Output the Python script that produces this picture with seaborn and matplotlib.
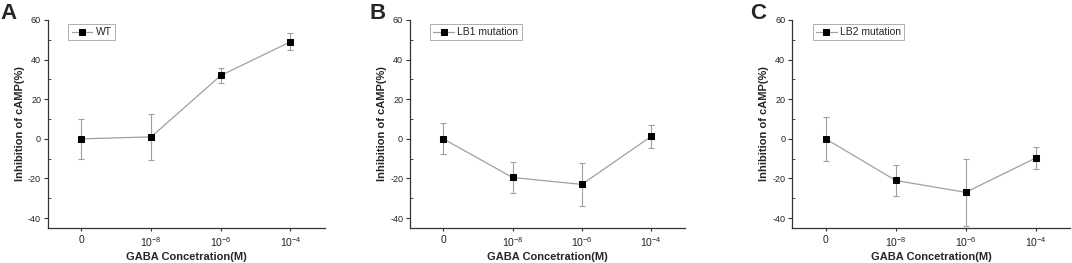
import numpy as np
import pandas as pd
import matplotlib
matplotlib.use('Agg')
import matplotlib.pyplot as plt
import seaborn as sns
from matplotlib.ticker import MultipleLocator

sns.set_style('ticks')
plt.rcParams['font.family'] = ['Liberation Sans', 'DejaVu Sans']
plt.rcParams['mathtext.default'] = 'regular'
plt.rcParams['axes.unicode_minus'] = False

# 数据
concentrations = ['0', '$10^{-8}$', '$10^{-6}$', '$10^{-4}$']
panel_letters = ['A', 'B', 'C']
series_names = ['WT', 'LB1 mutation', 'LB2 mutation']
wt_mean = [0, 1, 32, 49]
wt_err = [10, 11.5, 4, 4.3]
lb1_mean = [0, -19.5, -23, 1.2]
lb1_err = [7.8, 8, 10.7, 6]
lb2_mean = [0, -21, -27, -9.7]
lb2_err = [11, 7.7, 17, 5.5]

means = [wt_mean, lb1_mean, lb2_mean]
errs = [wt_err, lb1_err, lb2_err]

fig = plt.figure(figsize=(10.72, 2.63), dpi=100)
lefts = [0.0448, 0.3825, 0.739]
widths = [0.258, 0.2565, 0.259]
letter_x = [0.0, 0.345, 0.70]

for i in range(3):
    ax = fig.add_axes([lefts[i], 0.133, widths[i], 0.791])
    df = pd.DataFrame({'x': np.arange(len(concentrations)), 'y': means[i]})
    ax.errorbar(df['x'], df['y'], yerr=errs[i], fmt='none', ecolor='#a0a0a0',
                elinewidth=0.8, capsize=2.5, capthick=0.8, zorder=1)
    sns.lineplot(data=df, x='x', y='y', ax=ax, color='#a0a0a0', linewidth=0.9,
                 marker='s', markersize=5, markerfacecolor='black',
                 markeredgecolor='black', label=series_names[i], zorder=2)
    ax.set_xlim(-0.48, 3.49)
    ax.set_ylim(-45, 60)
    ax.set_xticks(range(len(concentrations)))
    ax.set_xticklabels(concentrations)
    ax.set_yticks([-40, -20, 0, 20, 40, 60])
    ax.yaxis.set_minor_locator(MultipleLocator(10))
    ax.tick_params(axis='y', which='major', labelsize=6.5, length=3, width=0.8,
                   color='#333333', labelcolor='#222222', pad=2)
    ax.tick_params(axis='y', which='minor', direction='in', length=2, width=0.6,
                   color='#333333')
    ax.tick_params(axis='x', which='major', labelsize=7.5, length=2, width=0.8,
                   color='#333333', labelcolor='#222222', pad=3)
    sns.despine(ax=ax)
    for s in ['left', 'bottom']:
        ax.spines[s].set_linewidth(0.9)
        ax.spines[s].set_color('#333333')
    ax.set_xlabel('GABA Concetration(M)', fontsize=8, fontweight='bold', labelpad=2)
    ax.set_ylabel('Inhibition of cAMP(%)', fontsize=8, fontweight='bold', labelpad=2)
    leg = ax.legend(loc='upper left', bbox_to_anchor=(0.055, 1.005), fontsize=7.5,
                    frameon=True, fancybox=False, handlelength=2.0,
                    borderpad=0.3, handletextpad=0.3, markerscale=0.8)
    leg.get_frame().set_edgecolor('#999999')
    leg.get_frame().set_linewidth(0.7)
    fig.text(letter_x[i], 0.99, panel_letters[i], fontsize=16, fontweight='bold',
             va='top', ha='left')

fig.savefig('out.png', dpi=100)
